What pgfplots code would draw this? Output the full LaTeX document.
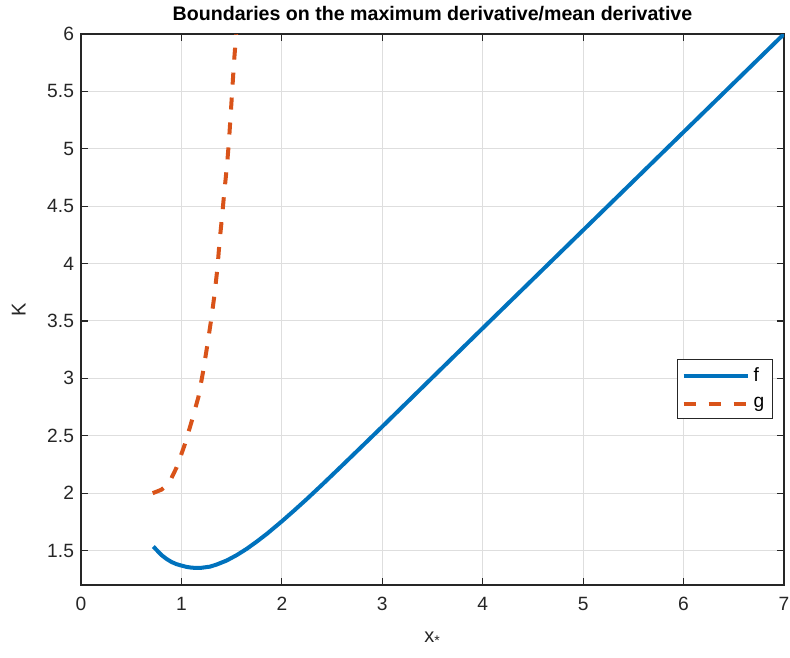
\documentclass[border=0pt]{standalone}
\usepackage{fontspec}
\setmainfont{Liberation Sans}
\usepackage{pgfplots}
\pgfplotsset{compat=1.18}
\definecolor{mblue}{rgb}{0,0.447,0.741}
\definecolor{morange}{rgb}{0.85,0.325,0.098}
\definecolor{axgray}{HTML}{262626}
\begin{document}
\begin{tikzpicture}
\begin{axis}[
  scale only axis, width=351.5pt, height=275.5pt,
  xmin=0, xmax=7, ymin=1.2, ymax=6,
  xtick={0,1,...,7}, ytick={1.5,2,...,6},
  grid=major, major grid style={black!13, line width=0.5pt},
  axis line style={axgray, line width=0.6pt},
  tick style={axgray, line width=0.6pt},
  major tick length=3.5pt,
  tick align=inside,
  tick label style={font=\fontsize{9.6}{11}\selectfont, text=axgray},
  xticklabel style={yshift=-2.5pt},
  /pgf/number format/assume math mode=true,
  title={\bfseries Boundaries on the maximum derivative/mean derivative},
  title style={font=\fontsize{9.8}{11}\selectfont, yshift=-3pt},
  xlabel={x\textsubscript{*}}, ylabel={K},
  label style={font=\fontsize{10}{12}\selectfont, text=axgray},
  xlabel style={yshift=-4pt},
  ylabel style={yshift=4pt},
  legend style={at={(0.984,0.41)}, anchor=north east, draw=axgray,
    line width=0.5pt, font=\fontsize{9.6}{11}\selectfont,
    inner xsep=2pt, inner ysep=2pt, row sep=2.5pt},
  legend cell align=left,
  legend image code/.code={\draw[#1] (0pt,0pt) -- (32pt,0pt);},
]
\addplot[mblue, line width=2pt] coordinates {
  (0.72,1.535) (0.80,1.462) (0.85,1.428) (0.90,1.401) (0.95,1.382)
  (1.00,1.369) (1.05,1.358) (1.10,1.351) (1.15,1.349) (1.20,1.350)
  (1.285,1.360) (1.35,1.378) (1.45,1.413) (1.55,1.460) (1.65,1.515)
  (1.75,1.578) (1.85,1.645) (2.00,1.755) (2.125,1.851) (2.25,1.950)
  (2.40,2.073) (2.58,2.224) (2.80,2.410) (3.00,2.580) (3.49,3.000)
  (4.00,3.437) (4.50,3.864) (5.00,4.291) (5.50,4.718) (6.00,5.146)
  (6.50,5.573) (7.00,6.000)
};
\addlegendentry{f}
\addplot[morange, line width=2pt, dash pattern=on 6pt off 6.5pt] coordinates {
  (0.714,2.000) (0.80,2.030) (0.85,2.065) (0.90,2.130) (0.953,2.226)
  (1.036,2.430) (1.10,2.620) (1.17,2.840) (1.218,3.070) (1.258,3.290)
  (1.295,3.505) (1.328,3.720) (1.358,3.956) (1.378,4.174) (1.404,4.406)
  (1.427,4.624) (1.454,4.857) (1.474,5.075) (1.491,5.307) (1.507,5.525)
  (1.524,5.760) (1.545,6.000)
};
\addlegendentry{g}
\coordinate (ll) at (rel axis cs:0,0);
\coordinate (ur) at (rel axis cs:1,1);
\end{axis}
\pgfresetboundingbox
\path[use as bounding box] ([shift={(-40.5pt,-36pt)}]ll) rectangle ([shift={(3pt,17pt)}]ur);
\end{tikzpicture}
\end{document}
